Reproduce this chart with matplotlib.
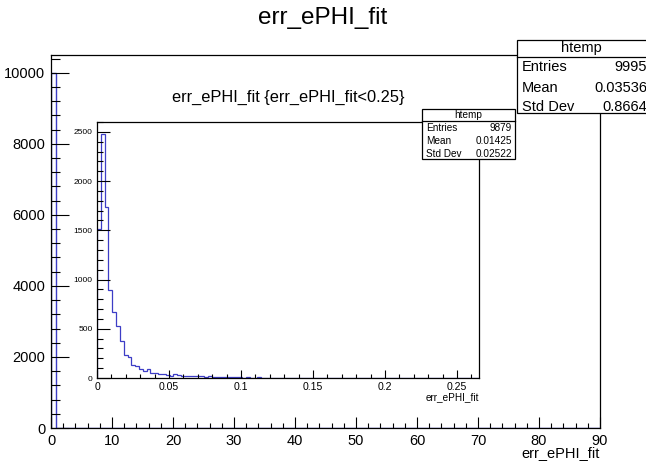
import numpy as np
import matplotlib
matplotlib.use("Agg")
import matplotlib.pyplot as plt
from matplotlib.patches import Rectangle
from matplotlib.lines import Line2D
from matplotlib.ticker import MultipleLocator

plt.rcParams["font.family"] = ["Liberation Sans", "DejaVu Sans"]

W, H = 646, 461
LINE = "#3d3dc6"

# full range histogram (100 bins over 0..90), only non-empty bins listed
MAIN_RANGE = (0.0, 90.0)
MAIN_NBINS = 100
MAIN_BIN_IDX = [0, 1, 2, 95]
MAIN_BIN_CNT = [9990, 3, 1, 1]
MAIN_STATS = [("Entries", "9995"), ("Mean", "0.03536"), ("Std Dev", "0.8664")]

# zoomed histogram err_ePHI_fit < 0.25 (100 bins over 0..0.2653)
INSET_RANGE = (0.0, 0.2653)
INSET_COUNTS = [
    1510, 2480, 1740, 898, 667, 532, 373, 237, 210, 129,
    119, 91, 68, 91, 51, 51, 44, 44, 34, 24,
    44, 34, 24, 24, 24, 17, 24, 17, 14, 17,
    10, 14, 10, 7, 10, 14, 7, 7, 5, 7,
    3, 5, 7, 3, 5, 3, 5, 3, 3, 5,
    3, 2, 3, 3, 2, 2, 3, 2, 3, 2,
    2, 3, 2, 2, 2, 3, 2, 2, 1, 2,
    2, 3, 2, 1, 2, 2, 1, 2, 1, 1,
    2, 1, 1, 2, 1, 1, 1, 2, 1, 1,
    1, 1, 2, 1, 1, 0, 1, 1, 2, 1,
]
INSET_STATS = [("Entries", "9879"), ("Mean", "0.01425"), ("Std Dev", "0.02522")]


def fx(x):
    return x / W


def fy(y):
    return 1 - y / H


def axes_px(fig, x0, y0, x1, y1):
    return fig.add_axes([fx(x0), fy(y1), fx(x1) - fx(x0), fy(y0) - fy(y1)])


def root_ticks(ax, xmaj, xmin, ymaj, ymin, xlen, ylen, xsize, ysize, pad):
    ax.xaxis.set_major_locator(MultipleLocator(xmaj))
    ax.xaxis.set_minor_locator(MultipleLocator(xmin))
    ax.yaxis.set_major_locator(MultipleLocator(ymaj))
    ax.yaxis.set_minor_locator(MultipleLocator(ymin))
    px = 72 / 100
    ax.tick_params(axis="x", which="major", direction="in", length=xlen * px, width=0.8,
                   labelsize=xsize, pad=pad)
    ax.tick_params(axis="x", which="minor", direction="in", length=xlen * px / 2, width=0.8)
    ax.tick_params(axis="y", which="major", direction="in", length=ylen * px, width=0.8,
                   labelsize=ysize, pad=pad)
    ax.tick_params(axis="y", which="minor", direction="in", length=ylen * px / 2, width=0.8)
    for s in ax.spines.values():
        s.set_linewidth(0.9)


def stat_box(fig, x0, y0, x1, y1, ysep, yhead, rows, row_y, size, lx, rx):
    fig.add_artist(Rectangle((fx(x0), fy(y1)), fx(x1) - fx(x0), fy(y0) - fy(y1),
                             transform=fig.transFigure, facecolor="white",
                             edgecolor="black", lw=0.9, zorder=5))
    fig.add_artist(Line2D([fx(x0), fx(x1)], [fy(ysep), fy(ysep)], transform=fig.transFigure,
                          color="black", lw=0.9, zorder=6))
    fig.text(fx((x0 + min(x1, W)) / 2), fy(yhead), "htemp", ha="center", va="center",
             fontsize=size, zorder=7)
    for (lab, val), yy in zip(rows, row_y):
        fig.text(fx(lx), fy(yy), lab, ha="left", va="center", fontsize=size, zorder=7)
        fig.text(fx(rx), fy(yy), val, ha="right", va="center", fontsize=size, zorder=7)


def main():
    fig = plt.figure(figsize=(W / 100, H / 100), dpi=100)

    # ---- main histogram ----
    ax = axes_px(fig, 51, 55, 600, 428)
    edges = np.linspace(*MAIN_RANGE, MAIN_NBINS + 1)
    counts = np.zeros(MAIN_NBINS)
    counts[MAIN_BIN_IDX] = MAIN_BIN_CNT
    ax.stairs(counts, edges, baseline=0, color=LINE, lw=1.0)
    ax.set_xlim(*MAIN_RANGE)
    ax.set_ylim(0, 10500)
    root_ticks(ax, 10, 2, 2000, 400, 11, 18, 10.5, 10.5, 4)
    fig.text(fx(323), fy(24), "err_ePHI_fit", ha="center", va="baseline", fontsize=17.5)
    fig.text(fx(600), fy(457.5), "err_ePHI_fit", ha="right", va="baseline", fontsize=10.5)
    stat_box(fig, 517, 40, 660, 113, 57, 48, MAIN_STATS, [67, 88, 107], 10.5, 522, 647)

    # ---- inset: err_ePHI_fit < 0.25 ----
    ai = axes_px(fig, 97, 122, 479, 378)
    ai.set_facecolor("white")
    iedges = np.linspace(*INSET_RANGE, len(INSET_COUNTS) + 1)
    ai.stairs(INSET_COUNTS, iedges, baseline=0, color=LINE, lw=0.9)
    ai.set_xlim(*INSET_RANGE)
    ai.set_ylim(0, 2600)
    root_ticks(ai, 0.05, 0.01, 500, 100, 7.7, 12.5, 7.6, 6.0, 3)
    ai.set_xticks(np.arange(0, 0.26, 0.05))
    ai.set_xticklabels(["0", "0.05", "0.1", "0.15", "0.2", "0.25"])
    fig.text(fx(288), fy(102), "err_ePHI_fit {err_ePHI_fit<0.25}", ha="center",
             va="baseline", fontsize=11.8)
    fig.text(fx(479), fy(397), "err_ePHI_fit", ha="right", va="center", fontsize=7.2)
    stat_box(fig, 422, 109, 515, 159, 121, 115, INSET_STATS, [128, 141.5, 154], 7.2, 426, 512)

    fig.savefig("out.png", dpi=100)


if __name__ == "__main__":
    main()
